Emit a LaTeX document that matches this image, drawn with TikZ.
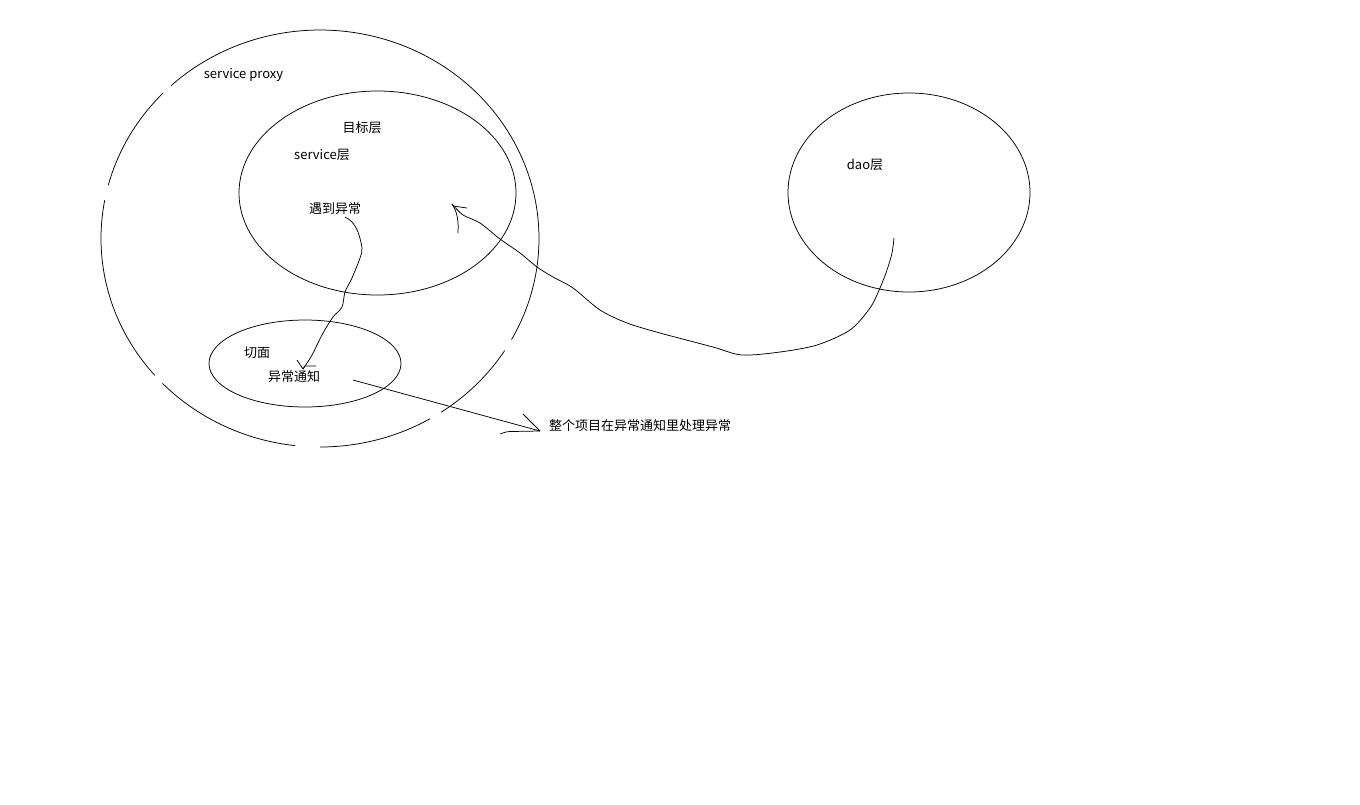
\documentclass[tikz,border=0pt]{standalone}
\usepackage{fontspec}
\setmainfont{Noto Sans CJK SC}
\usetikzlibrary{shapes.geometric}
\begin{document}
\begin{tikzpicture}[x=1pt,y=-1pt,
  line width=0.75pt,
  ring/.style={draw, ellipse, inner sep=0pt},
  lbl/.style={font=\fontsize{13}{15}\selectfont, inner sep=0pt},
  hand/.style={line width=0.75pt, line join=round}]
\useasboundingbox (0,0) rectangle (1360,804);
\fill[white] (0,0) rectangle (1360,804);
% big broken circle (service proxy)
\def\bcx{320}\def\bcy{238.5}\def\brx{219}\def\bry{208.5}
\foreach \a/\b in {32.5/56.4, 59.8/90, 96.5/136, 139/190.6, 194.8/224.2, 227.2/389}
  \draw[hand] plot[domain=\a:\b, samples=60, smooth] ({\bcx+\brx*cos(\x)},{\bcy+\bry*sin(\x)});
\coordinate (proxy) at (\bcx,\bcy);
% ellipses
\node[ring, minimum width=277pt, minimum height=204pt] (target) at (377.5,193) {};
\node[ring, minimum width=192pt, minimum height=87pt] (aspect) at (305,363.5) {};
\node[ring, minimum width=242pt, minimum height=199pt] (dao) at (909,192.5) {};
% labels
\node[lbl] (tproxy) at (243.5,75) {service proxy};
\node[lbl] (tmb) at (362,128) {目标层};
\node[lbl] (tsvc) at (322,155) {service层};
\node[lbl] (texc) at (335,209) {遇到异常};
\node[lbl] (tqm) at (257,353) {切面};
\node[lbl] (tnote) at (294,377) {异常通知};
\node[lbl] (tdao) at (865,165) {dao层};
\node[lbl] (tall) at (640,426) {整个项目在异常通知里处理异常};
% connector 1: 遇到异常 -> 异常通知
\coordinate (c1s) at (345,217);
\coordinate (c1t) at (303,369);
\draw[hand] plot[smooth, tension=0.5] coordinates {(c1s) (352,222) (358,232) (362,248) (360,258) (352,278) (345,292) (342,307) (333,317) (323,333) (312,355) (c1t)};
\draw[hand] (297,360) -- (c1t) -- (305,366) -- (316,366);
% connector 2: dao -> service
\coordinate (c2s) at (894,238);
\coordinate (c2t) at (452,204);
\draw[hand] plot[smooth, tension=0.5] coordinates {(c2s) (892,253) (887,270) (880,288) (870,308) (850,330) (817,345) (780,352) (742,355) (713,347) (660,333) (627,323) (600,310) (573,288) (553,277) (537,267) (520,253) (500,239) (480,223) (463,215) (c2t)};
\draw[hand] (467,208) -- (453,206);
\draw[hand] plot[smooth, tension=0.6] coordinates {(c2t) (456,212) (458,222) (458,233)};
% connector 3: 异常通知 -> text
\coordinate (c3s) at (353,380);
\coordinate (c3t) at (540,431);
\draw[hand] (c3s) -- (c3t);
\draw[hand] (523,414) -- (c3t);
\draw[hand] plot[smooth, tension=0.6] coordinates {(500,434) (506,432) (513,431.5) (c3t)};
\end{tikzpicture}
\end{document}
